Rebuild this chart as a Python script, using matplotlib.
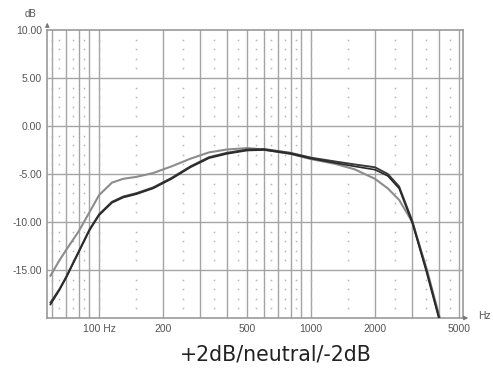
import numpy as np
import matplotlib.pyplot as plt

# frequency response curves (Hz, dB)
freq = [59, 65, 70, 80, 90, 100, 115, 130, 150, 180, 220, 270, 330, 400,
        500, 600, 800, 1000, 1300, 1600, 2000, 2300, 2600, 3000, 3500, 4000, 4100]
gray_db = [-15.6, -14.0, -12.9, -11.0, -9.0, -7.2, -5.9, -5.5, -5.3, -4.9, -4.2,
           -3.4, -2.75, -2.45, -2.3, -2.45, -2.9, -3.45, -3.95, -4.5, -5.5, -6.5,
           -7.7, -10.0, -14.8, -19.6, -20.5]
dark1_db = [-18.4, -17.0, -15.7, -13.1, -10.8, -9.2, -7.9, -7.35, -7.0, -6.4, -5.4,
            -4.2, -3.25, -2.8, -2.45, -2.4, -2.8, -3.3, -3.7, -4.0, -4.3, -5.0,
            -6.3, -9.9, -15.0, -19.8, -20.6]
dark2_db = [-18.6, -17.1, -15.8, -13.2, -10.9, -9.3, -8.0, -7.45, -7.1, -6.5, -5.5,
            -4.3, -3.35, -2.9, -2.55, -2.5, -2.9, -3.4, -3.85, -4.2, -4.55, -5.2,
            -6.5, -10.1, -15.2, -20.0, -20.8]

major_x = [60, 70, 80, 90, 100, 200, 300, 400, 500, 600, 700, 800, 900, 1000,
           2000, 3000, 4000, 5000]
dotted_x = [60, 65, 75, 85, 100, 150, 250, 350, 450, 550, 650, 750, 850, 1000,
            1500, 2500, 3500, 4500]
xtick_pos = [100, 200, 500, 1000, 2000, 5000]
xtick_lab = ['100 Hz', '200', '500', '1000', '2000', '5000']
ytick_pos = [10, 5, 0, -5, -10, -15]

plt.rcParams['font.family'] = ['Liberation Sans', 'DejaVu Sans']

fig = plt.figure(figsize=(4.93, 3.69), dpi=100)
ax = fig.add_axes([47.3 / 493, 1 - 318 / 369, 415.4 / 493, 288 / 369])
ax.set_xscale('log')
ax.set_xlim(57, 5187)
ax.set_ylim(-20, 10)

grid_c = '#a4a4a4'
for x in major_x:
    ax.axvline(x, color=grid_c, lw=1.0, zorder=1)
for y in [5, 0, -5, -10, -15]:
    ax.axhline(y, color=grid_c, lw=1.0, zorder=1)
dot_y = [v for v in range(-19, 10) if v % 5 != 0]
for x in dotted_x:
    ax.plot([x] * len(dot_y), dot_y, ls='none', marker='s', ms=1.1,
            color='#b4b4b4', mew=0, zorder=1)

ax.plot(freq, gray_db, color='#8c8c8c', lw=1.5, zorder=3)
ax.plot(freq, dark1_db, color='#3a3a3a', lw=1.4, zorder=4)
ax.plot(freq, dark2_db, color='#2a2a2a', lw=1.2, zorder=4)

for s in ax.spines.values():
    s.set_color('#999999')
    s.set_linewidth(1.2)

ax.set_xticks(xtick_pos)
ax.set_xticklabels(xtick_lab)
ax.xaxis.set_minor_locator(plt.NullLocator())
ax.set_yticks(ytick_pos)
ax.set_yticklabels(['%.2f' % v for v in ytick_pos])
ax.tick_params(length=0, labelsize=7.5, colors='#555555', pad=4)

# axis arrows and units
ax.annotate('', xy=(0, 1.035), xytext=(0, 1.0), xycoords='axes fraction',
            arrowprops=dict(arrowstyle='-|>', color='#777777', lw=0.8,
                            mutation_scale=6), annotation_clip=False)
ax.annotate('', xy=(1.02, 0), xytext=(1.0, 0), xycoords='axes fraction',
            arrowprops=dict(arrowstyle='-|>', color='#777777', lw=0.8,
                            mutation_scale=6), annotation_clip=False)
fig.text(25 / 493, 1 - 14 / 369, 'dB', fontsize=7, color='#555555', va='center')
fig.text(478 / 493, 1 - 316 / 369, 'Hz', fontsize=7.5, color='#555555', va='center')

fig.text(275.5 / 493, 1 - 361 / 369, '+2dB/neutral/-2dB', fontsize=14.8,
         family='DejaVu Sans', color='#222222', ha='center', va='baseline')

fig.savefig('out.png', dpi=100)
